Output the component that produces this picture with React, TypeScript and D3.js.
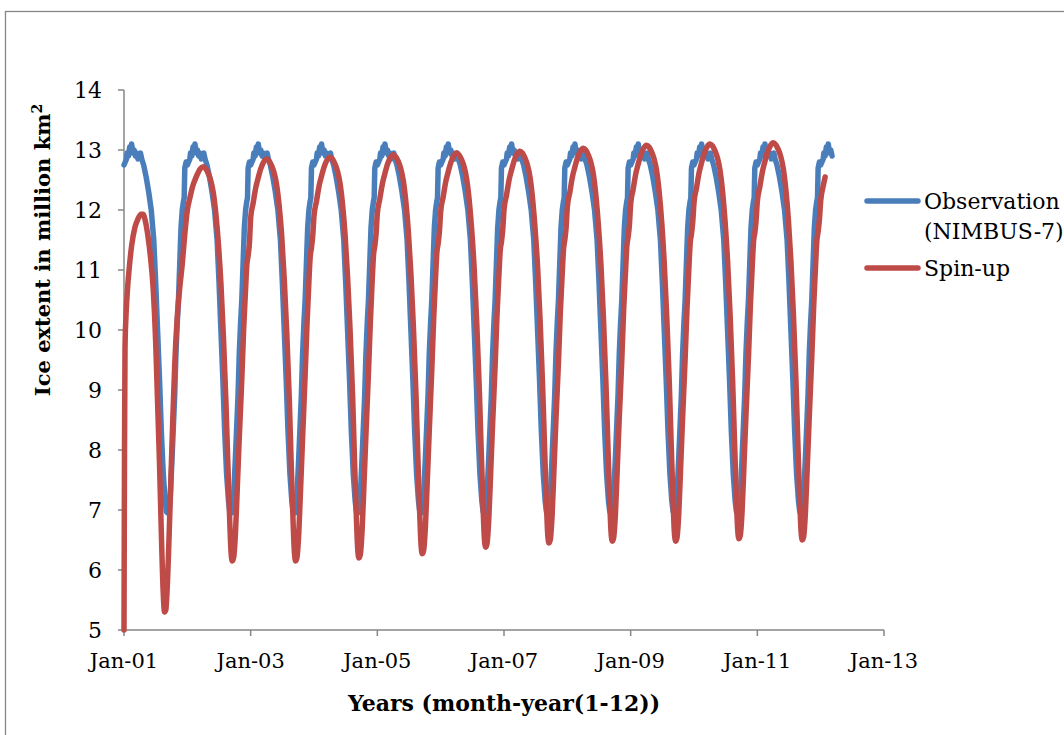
import React from "react";
import * as d3 from "d3";

// ---- Data ----
const xTickYears = [1, 3, 5, 7, 9, 11, 13];
const xTickLabels = ["Jan-01", "Jan-03", "Jan-05", "Jan-07", "Jan-09", "Jan-11", "Jan-13"];
const yTicks = [5, 6, 7, 8, 9, 10, 11, 12, 13, 14];

// Observation (NIMBUS-7) climatological annual cycle (fraction of year, value), repeated each year
const obsCycleT = [0.00, 0.02, 0.04, 0.05, 0.07, 0.09, 0.11, 0.12, 0.14, 0.16, 0.18, 0.20, 0.22, 0.24, 0.26, 0.28, 0.31, 0.35, 0.39, 0.43, 0.47, 0.50, 0.53, 0.56, 0.59, 0.62, 0.65, 0.67, 0.69, 0.71, 0.73, 0.76, 0.78, 0.80, 0.82, 0.84, 0.86, 0.88, 0.90, 0.92, 0.94, 0.95, 0.96, 0.98];
const obsCycleV = [12.75, 12.8, 12.85, 12.95, 12.9, 13.05, 13.0, 13.1, 12.95, 13.0, 12.9, 12.95, 12.85, 12.9, 12.95, 12.85, 12.75, 12.55, 12.3, 12.0, 11.5, 10.8, 10.0, 9.2, 8.3, 7.6, 7.15, 6.97, 6.95, 6.96, 7.2, 7.9, 8.4, 8.9, 9.6, 10.1, 10.5, 11.1, 11.7, 12.0, 12.15, 12.2, 12.7, 12.8];
const obsYears = [1, 2, 3, 4, 5, 6, 7, 8, 9, 10, 11];
const obsLastYear = 12;
const obsLastT = [0.00, 0.02, 0.04, 0.05, 0.07, 0.09, 0.11, 0.12, 0.14, 0.16, 0.18];
const obsLastV = [12.75, 12.8, 12.85, 12.95, 12.9, 13.05, 13.0, 13.1, 12.95, 13.0, 12.9];

// Spin-up, year 1
const spinY1T = [0, 0.008, 0.016, 0.03, 0.05, 0.08, 0.12, 0.17, 0.22, 0.27, 0.30, 0.34, 0.38, 0.42, 0.46, 0.50, 0.53, 0.56, 0.59, 0.62, 0.64, 0.66, 0.68, 0.71, 0.74, 0.77, 0.80, 0.84, 0.88, 0.92, 0.96];
const spinY1V = [5.0, 8.0, 9.7, 10.2, 10.6, 11.0, 11.4, 11.7, 11.85, 11.93, 11.93, 11.8, 11.55, 11.2, 10.7, 9.8, 8.8, 7.8, 6.6, 5.6, 5.3, 5.33, 5.65, 6.5, 7.5, 8.5, 9.4, 10.2, 10.7, 11.1, 11.6];

// Spin-up, years 2..11 on a common within-year grid
const spinT = [0.00, 0.04, 0.08, 0.12, 0.16, 0.20, 0.25, 0.29, 0.33, 0.37, 0.41, 0.45, 0.49, 0.53, 0.57, 0.61, 0.64, 0.67, 0.69, 0.71, 0.73, 0.76, 0.79, 0.82, 0.86, 0.89, 0.92, 0.94, 0.96, 0.98];
const spinY2 = [12.00, 12.20, 12.38, 12.50, 12.60, 12.68, 12.72, 12.69, 12.61, 12.49, 12.29, 11.94, 11.44, 10.78, 9.88, 8.78, 7.77, 6.80, 6.30, 6.15, 6.20, 6.62, 7.40, 8.20, 9.18, 10.03, 10.69, 11.09, 11.24, 11.44];
const spinY3 = [11.87, 12.12, 12.37, 12.54, 12.69, 12.79, 12.85, 12.82, 12.74, 12.62, 12.42, 12.07, 11.57, 10.85, 9.95, 8.85, 7.77, 6.80, 6.30, 6.15, 6.20, 6.62, 7.40, 8.20, 9.25, 10.10, 10.82, 11.22, 11.37, 11.57];
const spinY4 = [11.90, 12.15, 12.40, 12.57, 12.72, 12.82, 12.88, 12.85, 12.77, 12.65, 12.45, 12.10, 11.60, 10.89, 9.99, 8.89, 7.82, 6.85, 6.35, 6.20, 6.25, 6.67, 7.45, 8.25, 9.29, 10.14, 10.85, 11.25, 11.40, 11.60];
const spinY5 = [11.94, 12.19, 12.44, 12.61, 12.76, 12.86, 12.92, 12.89, 12.81, 12.69, 12.49, 12.14, 11.64, 10.94, 10.04, 8.94, 7.89, 6.92, 6.42, 6.27, 6.32, 6.74, 7.52, 8.32, 9.34, 10.19, 10.89, 11.29, 11.44, 11.64];
const spinY6 = [11.97, 12.22, 12.47, 12.64, 12.79, 12.89, 12.95, 12.92, 12.84, 12.72, 12.52, 12.17, 11.67, 11.01, 10.11, 9.01, 8.00, 7.03, 6.53, 6.38, 6.43, 6.85, 7.63, 8.43, 9.41, 10.26, 10.92, 11.32, 11.47, 11.67];
const spinY7 = [12.00, 12.25, 12.50, 12.67, 12.82, 12.92, 12.98, 12.95, 12.87, 12.75, 12.55, 12.20, 11.70, 11.06, 10.16, 9.06, 8.07, 7.10, 6.60, 6.45, 6.50, 6.92, 7.70, 8.50, 9.46, 10.31, 10.95, 11.35, 11.50, 11.70];
const spinY8 = [12.05, 12.30, 12.55, 12.72, 12.87, 12.97, 13.03, 13.00, 12.92, 12.80, 12.60, 12.25, 11.75, 11.10, 10.20, 9.10, 8.10, 7.13, 6.63, 6.48, 6.53, 6.95, 7.73, 8.53, 9.50, 10.35, 11.00, 11.40, 11.55, 11.75];
const spinY9 = [12.10, 12.35, 12.60, 12.77, 12.92, 13.02, 13.08, 13.05, 12.97, 12.85, 12.65, 12.30, 11.80, 11.12, 10.22, 9.12, 8.10, 7.13, 6.63, 6.48, 6.53, 6.95, 7.73, 8.53, 9.52, 10.37, 11.05, 11.45, 11.60, 11.80];
const spinY10 = [12.12, 12.37, 12.62, 12.79, 12.94, 13.04, 13.10, 13.07, 12.99, 12.87, 12.67, 12.32, 11.82, 11.15, 10.25, 9.15, 8.14, 7.17, 6.67, 6.52, 6.57, 6.99, 7.77, 8.57, 9.55, 10.40, 11.07, 11.47, 11.62, 11.82];
const spinY11 = [12.14, 12.39, 12.64, 12.81, 12.96, 13.06, 13.12, 13.09, 13.01, 12.89, 12.69, 12.34, 11.84, 11.15, 10.25, 9.15, 8.12, 7.15, 6.65, 6.50, 6.55, 6.97, 7.75, 8.55, 9.55, 10.40, 11.09, 11.49, 11.64, 11.84];
const spinYears = [2, 3, 4, 5, 6, 7, 8, 9, 10, 11];
const spinYearValues = [spinY2, spinY3, spinY4, spinY5, spinY6, spinY7, spinY8, spinY9, spinY10, spinY11];
const spinY12T = [0.00, 0.04, 0.07];
const spinY12V = [12.15, 12.4, 12.55];

const seriesNames = ["Observation", "(NIMBUS-7)", "Spin-up"];

type P = { x: number; v: number };

function buildObs(): P[] {
  const pts: P[] = [];
  obsYears.forEach((yr) => obsCycleT.forEach((t, i) => pts.push({ x: yr + t, v: obsCycleV[i] })));
  obsLastT.forEach((t, i) => pts.push({ x: obsLastYear + t, v: obsLastV[i] }));
  return pts;
}

function buildSpin(): P[] {
  const pts: P[] = [];
  spinY1T.forEach((t, i) => pts.push({ x: 1 + t, v: spinY1V[i] }));
  spinYears.forEach((yr, k) => spinT.forEach((t, i) => pts.push({ x: yr + t, v: spinYearValues[k][i] })));
  spinY12T.forEach((t, i) => pts.push({ x: 12 + t, v: spinY12V[i] }));
  return pts;
}

export default function App() {
  const W = 1064, H = 735;
  const x = d3.scaleLinear().domain([1, 13]).range([124, 884]);
  const y = d3.scaleLinear().domain([5, 14]).range([630, 90]);
  const obs = buildObs();
  const spin = buildSpin();
  const obsLine = d3.line<P>().x((d) => x(d.x)).y((d) => y(d.v)).curve(d3.curveLinear);
  const spinLine = d3.line<P>().x((d) => x(d.x)).y((d) => y(d.v)).curve(d3.curveMonotoneX);
  const axisColor = "#868686";
  const blue = "#4A7EBB";
  const red = "#BE4B48";
  const font = "'DejaVu Serif', serif";

  return (
    <svg width={W} height={H} style={{ position: "absolute", left: 0, top: 0, background: "#fff" }}>
      <rect x={5.5} y={11.5} width={W} height={H} fill="#fff" stroke={axisColor} strokeWidth={1.3} />
      {/* axes */}
      <line x1={x(1)} x2={x(1)} y1={y(14)} y2={y(5)} stroke={axisColor} strokeWidth={1.5} />
      <line x1={x(1)} x2={x(13)} y1={y(5)} y2={y(5)} stroke={axisColor} strokeWidth={1.5} />
      {yTicks.map((t) => (
        <g key={"y" + t}>
          <line x1={x(1) - 6} x2={x(1)} y1={y(t)} y2={y(t)} stroke={axisColor} strokeWidth={1.5} />
          <text x={102} y={y(t)} dy="0.36em" textAnchor="end" fontFamily={font} fontSize={22} fill="#000">
            {t}
          </text>
        </g>
      ))}
      {xTickYears.map((t, i) => (
        <g key={"x" + t}>
          <line x1={x(t)} x2={x(t)} y1={y(5)} y2={y(5) + 6} stroke={axisColor} strokeWidth={1.5} />
          <text x={x(t)} y={668} textAnchor="middle" fontFamily={font} fontSize={21} fill="#000">
            {xTickLabels[i]}
          </text>
        </g>
      ))}
      {/* series */}
      <path d={obsLine(obs) || ""} fill="none" stroke={blue} strokeWidth={5.5} strokeLinejoin="round" strokeLinecap="round" />
      <path d={spinLine(spin) || ""} fill="none" stroke={red} strokeWidth={5.5} strokeLinejoin="round" strokeLinecap="round" />
      {/* axis titles */}
      <text x={504} y={711} textAnchor="middle" fontFamily={font} fontWeight="bold" fontSize={22} fill="#000">
        Years (month-year(1-12))
      </text>
      <text transform="translate(50,250) rotate(-90)" textAnchor="middle" fontFamily={font} fontWeight="bold" fontSize={21} fill="#000">
        Ice extent in million km<tspan dy="-8" fontSize={14}>2</tspan>
      </text>
      {/* legend */}
      <line x1={867} x2={918} y1={201} y2={201} stroke={blue} strokeWidth={5.5} strokeLinecap="round" />
      <text x={924} y={209} fontFamily={font} fontSize={22} fill="#000">{seriesNames[0]}</text>
      <text x={924} y={239} fontFamily={font} fontSize={22} fill="#000">{seriesNames[1]}</text>
      <line x1={867} x2={918} y1={268} y2={268} stroke={red} strokeWidth={5.5} strokeLinecap="round" />
      <text x={924} y={276} fontFamily={font} fontSize={22} fill="#000">{seriesNames[2]}</text>
    </svg>
  );
}
